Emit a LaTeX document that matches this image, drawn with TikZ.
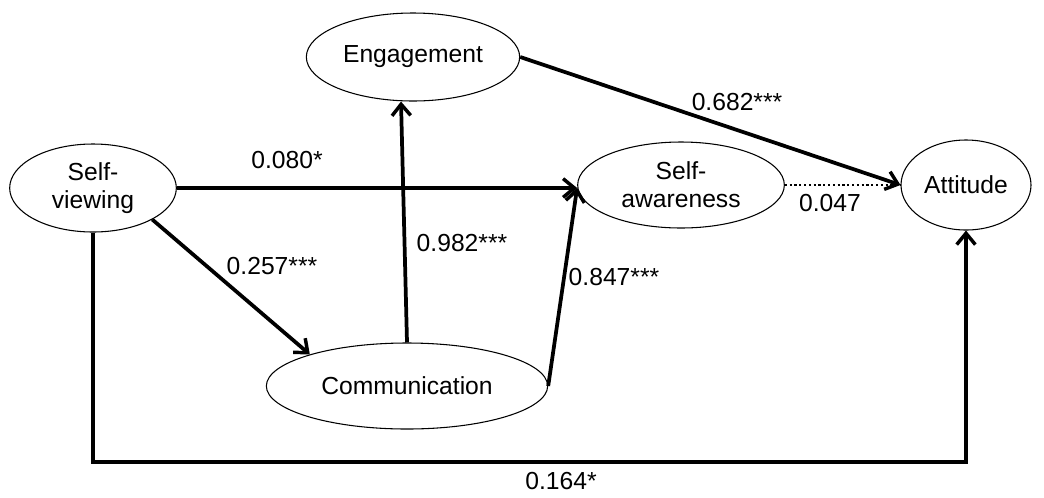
\documentclass[tikz,border=0pt]{standalone}
\usepackage{fontspec}
\setmainfont{Liberation Sans}
\usetikzlibrary{shapes.geometric,arrows.meta}
\begin{document}
\begin{tikzpicture}[x=0.75pt,y=-0.75pt,
  lat/.style={ellipse,draw,line width=0.8pt,inner sep=0pt,align=center,
    font=\fontsize{18.5}{21}\selectfont},
  pth/.style={line width=2.8pt,-{Straight Barb[length=8.5pt,width=14pt,line width=2.6pt]}},
  dots/.style={line width=1.6pt,dotted},
  lbl/.style={font=\fontsize{18.5}{21}\selectfont,inner sep=0pt}]
\useasboundingbox[fill=white] (0,0) rectangle (1044,497);
% latent variables
\node[lat,minimum width=125pt,minimum height=66pt] (sv) at (93,188) {Self-\\viewing};
\node[lat,minimum width=160pt,minimum height=66pt] (eng) at (413,57) {Engagement};
\node[lat,minimum width=155pt,minimum height=64.5pt] (sa) at (681,185) {Self-\\awareness};
\node[lat,minimum width=97.5pt,minimum height=67.5pt] (att) at (966,185) {Attitude};
\node[lat,minimum width=211pt,minimum height=64.5pt] (com) at (407,386) {Communication};
\coordinate (bot) at (0,462);
% paths
\draw[pth] (sv.east) -- (sv.east -| sa.west);
\draw[pth] (sv.-28) -- (com.162);
\draw[pth] (com.north) -- ([xshift=-9pt]eng.south);
\draw[pth] (com.east) -- ([yshift=-2pt]sa.west);
\draw[pth] (eng.east) -- (att.west);
\draw[dots] (sa.east) -- (att.west);
\draw[pth] (sv.south) -- (sv.south |- bot) -- (att.south |- bot) -- (att.south);
% labels
\node[lbl] (l1) at (287,160) {0.080*};
\node[lbl] (l2) at (272,266) {0.257***};
\node[lbl] (l3) at (462,243) {0.982***};
\node[lbl] (l4) at (614,277) {0.847***};
\node[lbl] (l5) at (737,102) {0.682***};
\node[lbl] (l6) at (830,203) {0.047};
\node[lbl] (l7) at (561,481) {0.164*};
\end{tikzpicture}
\end{document}
